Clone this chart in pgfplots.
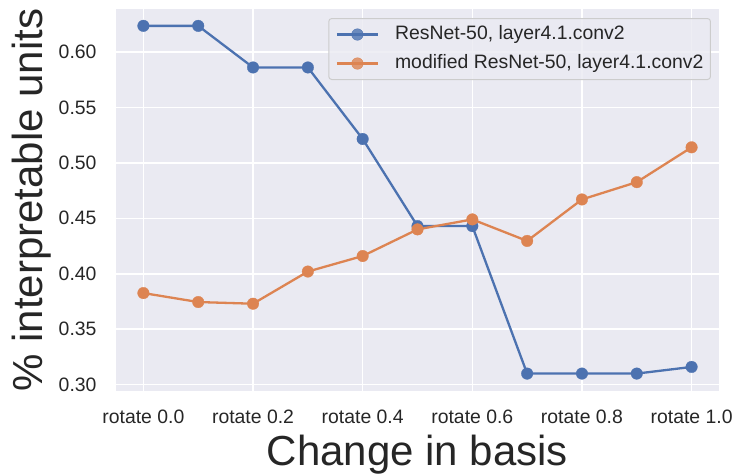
\documentclass[border=0pt]{standalone}
\usepackage{fontspec}
\setmainfont{Liberation Sans}
\usepackage{pgfplots}
\pgfplotsset{compat=1.18}
\definecolor{sbblue}{HTML}{4C72B0}
\definecolor{sborange}{HTML}{DD8452}
\definecolor{sbbg}{HTML}{EAEAF2}
\definecolor{sbtext}{HTML}{262626}
\definecolor{sbedge}{HTML}{CCCCCC}
\begin{document}
\begin{tikzpicture}
\begin{axis}[
  name=ax,
  scale only axis,
  width=603bp, height=382bp,
  xmin=-0.5, xmax=10.5,
  ymin=0.2943, ymax=0.6387,
  axis background/.style={fill=sbbg},
  axis line style={draw=none},
  major tick length=0pt,
  grid=major,
  major grid style={white, line width=1.6bp},
  xtick={0,2,4,6,8,10},
  xticklabels={rotate 0.0, rotate 0.2, rotate 0.4, rotate 0.6, rotate 0.8, rotate 1.0},
  ytick={0.30,0.35,0.40,0.45,0.50,0.55,0.60},
  yticklabel style={/pgf/number format/fixed, /pgf/number format/fixed zerofill, /pgf/number format/precision=2},
  /pgf/number format/assume math mode=true,
  ticklabel style={font=\fontsize{19.4bp}{23bp}\selectfont, text=sbtext, inner sep=0pt},
  xticklabel style={anchor=base, yshift=-32bp},
  yticklabel style={anchor=east, xshift=-19.3bp},
  xlabel={Change in basis},
  ylabel={\% interpretable units},
  label style={font=\fontsize{42bp}{50bp}\selectfont, text=sbtext, inner sep=0pt},
  xlabel style={at={([yshift=-74bp]axis description cs:0.5,0)}, anchor=base},
  ylabel style={at={([xshift=-73bp]axis description cs:0,0.5)}, anchor=base},
  legend cell align=left,
  legend image code/.code={\draw[mark repeat=2,mark phase=2] plot coordinates {(0bp,0bp)(20.5bp,0bp)(41bp,0bp)};},
  legend style={at={(rel axis cs:0.9867,0.9764)}, anchor=north east,
    fill=sbbg, fill opacity=0.8, text opacity=1, draw=sbedge, line width=1bp,
    rounded corners=3bp, inner xsep=7bp, inner ysep=7bp,
    font=\fontsize{19.4bp}{23bp}\selectfont, text=sbtext,
    nodes={inner sep=0pt, text height=14bp, text depth=4bp},
    row sep=11bp,
    /tikz/every odd column/.append style={column sep=16bp}},
]
\addplot[sbblue, line width=2.3bp, mark=*, mark size=5.8bp, mark options={solid, fill=sbblue, draw=sbblue, line width=0.3bp}] coordinates {
(0,0.6235) (1,0.6235) (2,0.586) (3,0.586) (4,0.5215) (5,0.443) (6,0.443) (7,0.310) (8,0.310) (9,0.310) (10,0.316)};
\addlegendentry{ResNet-50, layer4.1.conv2}
\addplot[sborange, line width=2.3bp, mark=*, mark size=5.8bp, mark options={solid, fill=sborange, draw=sborange, line width=0.3bp}] coordinates {
(0,0.3826) (1,0.3745) (2,0.373) (3,0.402) (4,0.416) (5,0.440) (6,0.449) (7,0.4296) (8,0.467) (9,0.4826) (10,0.514)};
\addlegendentry{modified ResNet-50, layer4.1.conv2}
\end{axis}
\pgfresetboundingbox
\path[use as bounding box] ([shift={(-116bp,-84bp)}]ax.south west) rectangle ([shift={(15bp,9bp)}]ax.north east);
\end{tikzpicture}
\end{document}
